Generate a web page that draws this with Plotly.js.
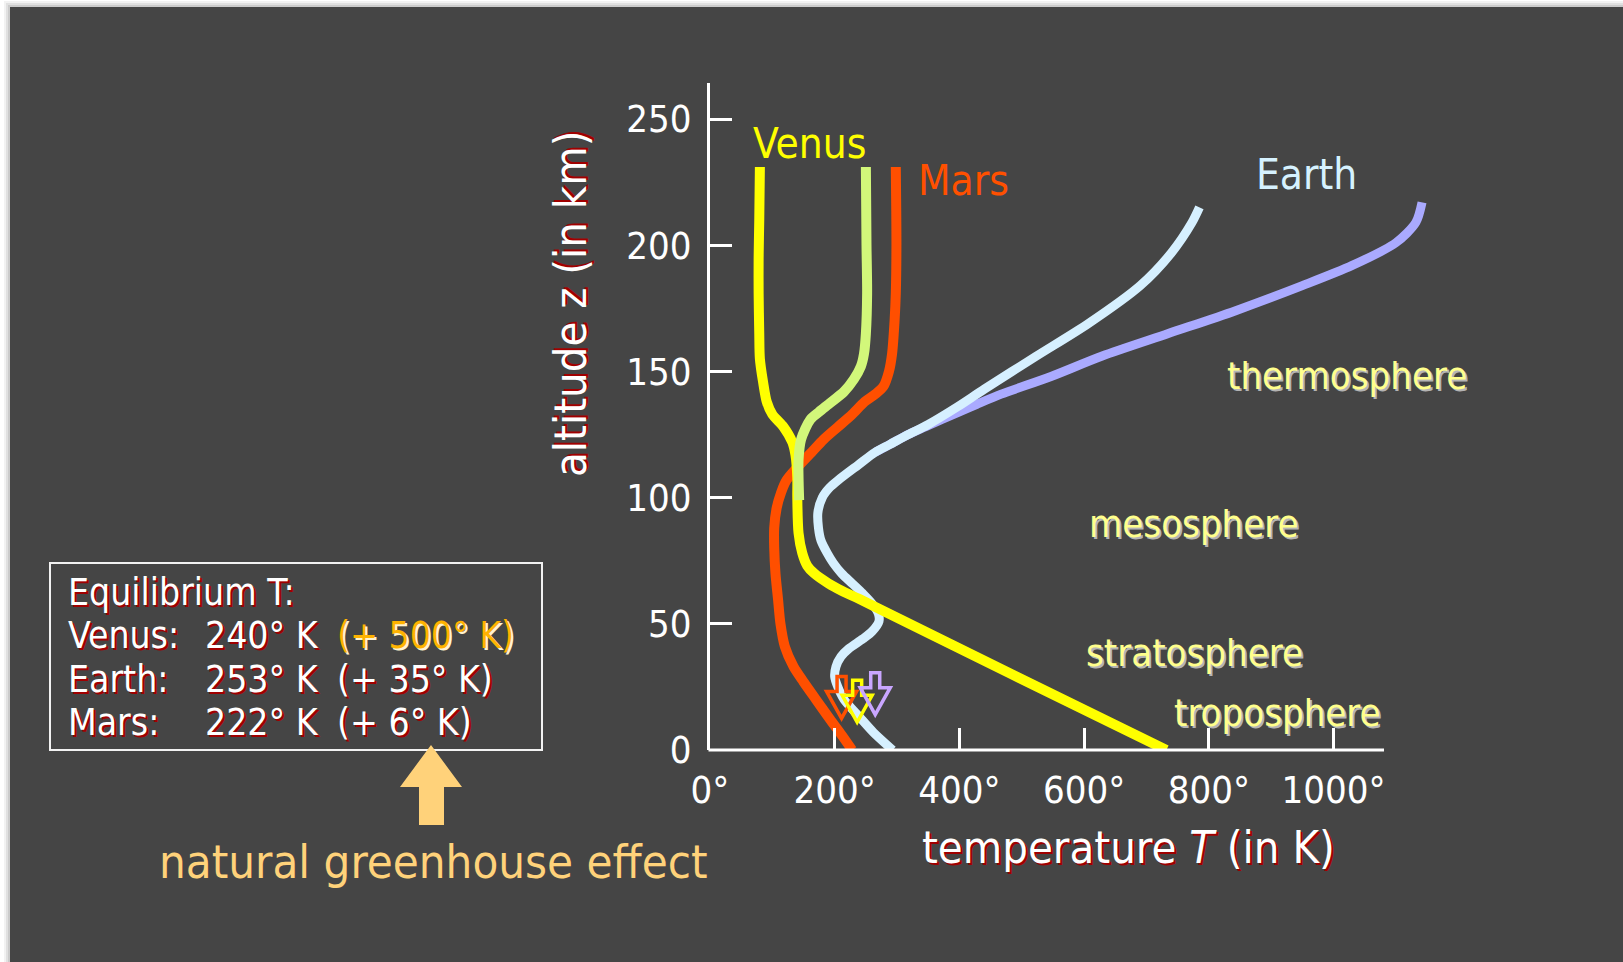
<!DOCTYPE html>
<html>
<head>
<meta charset="utf-8">
<script src="https://cdn.plot.ly/plotly-3.0.1.min.js"></script>
<style>html,body{margin:0;padding:0;background:#ffffff;overflow:hidden}</style>
</head>
<body>
<div id="chart" style="width:1623px;height:962px"></div>
<script>
// ---------------- DATA ----------------
// Venus, night-side profile (yellow): altitude z (km) and temperature T (K)
const venusNightZ = [0, 30, 56, 60, 63, 66, 70, 73, 78, 86, 100, 108, 117, 122, 128, 133, 138, 146, 155, 165, 181, 195, 210, 231];
const venusNightT = [732, 484, 271, 238, 212, 190, 167, 156, 148, 142, 140, 140, 137, 132, 118, 100, 91, 85, 80, 79, 78, 78, 79, 80];
// Venus, day-side upper profile (light green)
const venusDayZ = [99, 108, 115, 123, 131, 134, 137, 142, 147, 152, 157, 165, 181, 200, 231];
const venusDayT = [143, 142, 142, 146, 161, 175, 190, 215, 231, 242, 247, 250, 252, 251, 250];
// Mars (orange-red)
const marsZ = [0, 6, 12, 20, 27, 33, 41, 50, 60, 70, 80, 88, 96, 102, 107, 112, 118, 123, 128, 133, 138, 141, 144, 150, 157, 170, 181, 200, 231];
const marsT = [228, 211, 193, 170, 150, 134, 120, 113, 109, 105, 103, 103, 107, 114, 123, 140, 163, 182, 205, 228, 248, 265, 278, 287, 292, 296, 298, 299, 298];
// Earth (light blue)
const earthZ = [0, 7, 13, 20, 25, 29, 33, 37, 40, 44, 47, 51, 54, 58, 62, 66, 70, 74, 78, 83, 88, 94, 100, 104, 107, 113, 118, 121, 125, 129, 136, 143, 156, 169, 184, 197, 209, 215];
const earthT = [293, 262, 240, 215, 205, 200, 202, 210, 222, 245, 260, 271, 270, 260, 245, 228, 211, 198, 188, 178, 174, 173, 180, 192, 206, 238, 265, 288, 318, 350, 397, 440, 523, 607, 690, 740, 773, 785];
// Earth, hot thermosphere branch (lavender)
const earthHotZ = [118, 121, 125, 128, 131, 134, 137, 141, 148, 156, 165, 174, 184, 192, 201, 209, 217];
const earthHotT = [265, 288, 318, 345, 372, 400, 428, 467, 547, 628, 735, 842, 950, 1030, 1100, 1132, 1142];
// Equilibrium temperatures and greenhouse warming (text box)
const eqPlanets = ['Venus', 'Earth', 'Mars'];
const eqTemps = [240, 253, 222];
const eqExtra = [500, 35, 6];
// Small down-arrows (equilibrium markers): planet, T position, tip altitude
const arrowPlanets = ['Mars', 'Venus', 'Earth'];
const arrowT = [211, 236, 265];
const arrowTipZ = [12.5, 11, 14];
// Axis ticks
const xTickVals = [0, 200, 400, 600, 800, 1000];
const xTickText = ['0°', '200°', '400°', '600°', '800°', '1000°'];
const yTickVals = [0, 50, 100, 150, 200, 250];
const yTickText = ['0', '50', '100', '150', '200', '250'];
// Labels
const planetLabels = ['Venus', 'Mars', 'Earth'];
const layerLabels = ['thermosphere', 'mesosphere', 'stratosphere', 'troposphere'];

// ---------------- STYLE ----------------
const W = 1623, H = 962;
const FONT = '"DejaVu Sans Condensed", "DejaVu Sans", sans-serif';
const px = v => v / W;
const py = v => 1 - v / H;
const colVenus = '#ffff00', colVenusDay = '#d2f77a', colMars = '#ff4f00', colEarth = '#d6f0ff', colEarthHot = '#aaaaff';
const arrowColors = {Mars: '#ff5000', Venus: '#ffff00', Earth: '#c9a6ff'};
const planetLabelColors = {Venus: '#ffff00', Mars: '#ff5000', Earth: '#d6f2ff'};
const planetLabelPos = {Venus: [751, 143], Mars: [916, 181], Earth: [1254, 174]};
const layerLabelPos = {thermosphere: [1225, 376], mesosphere: [1087, 524], stratosphere: [1084, 653], troposphere: [1172, 713]};
// plot geometry (pixels): axes origin at (710, 750), drawn x-axis ends at 1384, y-axis top at 83
const X0 = 710, XAXIS_END = 1384, XDOM_END = 1440, Y0 = 750, YTOP = 83;
const PX_PER_K = 0.6235;

function curve(T, Z, color, width) {
  return {x: T, y: Z, type: 'scatter', mode: 'lines', hoverinfo: 'skip',
          line: {color: color, width: width, shape: 'spline', smoothing: 0.8}};
}
const traces = [
  curve(earthHotT, earthHotZ, colEarthHot, 9),
  curve(earthT, earthZ, colEarth, 9),
  curve(marsT, marsZ, colMars, 10),
  curve(venusNightT, venusNightZ, colVenus, 10),
  curve(venusDayT, venusDayZ, colVenusDay, 10)
];

const shapes = [];
// page shadow and dark panel
[[6, 0.05], [4, 0.07], [2, 0.09]].forEach(([d, o]) => {
  shapes.push({type: 'rect', xref: 'paper', yref: 'paper', layer: 'below',
    x0: px(10 - d), x1: 1, y0: 0, y1: py(7 - d), line: {width: 0}, fillcolor: 'rgba(0,0,0,' + o + ')'});
});
shapes.push({type: 'rect', xref: 'paper', yref: 'paper', layer: 'below',
  x0: px(10), x1: 1, y0: 0, y1: py(7), line: {width: 0}, fillcolor: '#454545'});
// drawn x-axis line (shorter than the plotting area so the hot Earth curve can run past it)
shapes.push({type: 'line', xref: 'paper', yref: 'paper', layer: 'above',
  x0: px(X0 - 1.5), x1: px(XAXIS_END), y0: py(Y0), y1: py(Y0), line: {color: '#ffffff', width: 3}});
// hollow equilibrium arrows (pixel-sized, anchored at data position)
arrowPlanets.forEach((p, i) => {
  shapes.push({type: 'path', xref: 'x', yref: 'y', xsizemode: 'pixel', ysizemode: 'pixel',
    xanchor: arrowT[i], yanchor: arrowTipZ[i],
    path: 'M0,0 L-15,27 L-4.5,27 L-4.5,42 L4.5,42 L4.5,27 L15,27 Z',
    line: {color: arrowColors[p], width: 3.5}, fillcolor: 'rgba(0,0,0,0)'});
});
// text box
shapes.push({type: 'rect', xref: 'paper', yref: 'paper', x0: px(50), x1: px(542), y0: py(750), y1: py(563),
  line: {color: '#f2f2f2', width: 2}, fillcolor: 'rgba(0,0,0,0)'});
// big greenhouse arrow
const ap = [[431, 745], [462, 787], [444, 787], [444, 825], [419, 825], [419, 787], [400, 787]];
shapes.push({type: 'path', xref: 'paper', yref: 'paper',
  path: 'M' + ap.map(p => px(p[0]) + ',' + py(p[1])).join(' L') + ' Z',
  line: {width: 0}, fillcolor: '#ffd27a'});

const ann = [];
function txt(text, x, y, size, color, opts) {
  ann.push(Object.assign({xref: 'paper', yref: 'paper', x: px(x), y: py(y), text: text, showarrow: false,
    xanchor: 'left', yanchor: 'middle', font: {family: FONT, size: size, color: color}}, opts || {}));
}
planetLabels.forEach(p => txt(p, planetLabelPos[p][0], planetLabelPos[p][1], 42, planetLabelColors[p]));
layerLabels.forEach(l => txt(l, layerLabelPos[l][0], layerLabelPos[l][1], 38, '#ffff8c'));
ann.slice(-4).forEach(a => a.font.shadow = '2px 2px 0px #b4b4b4');

const redShadow = '2px 2px 0px #a00000';
const BOX_FS = 37;
txt('Equilibrium T:', 66, 592, BOX_FS, '#ffffff');
const boxY = [635.5, 679, 722.5];
eqPlanets.forEach((p, i) => {
  txt(p + ':', 66, boxY[i], BOX_FS, '#ffffff');
  txt(eqTemps[i] + '° K', 203, boxY[i], BOX_FS, '#ffffff');
  const extra = '(+ ' + eqExtra[i] + '° K)';
  if (i === 0) txt(extra, 335, boxY[i], BOX_FS, '#ffb300', {font: {family: FONT, size: BOX_FS, color: '#ffb300', shadow: '2px 2px 0px #fff4d0'}});
  else txt(extra, 335, boxY[i], BOX_FS, '#ffffff');
});
ann.forEach(a => { if (a.font.color === '#ffffff' && !a.font.shadow) a.font.shadow = redShadow; });

txt('natural greenhouse effect', 433, 861, 47, '#ffd27a', {xanchor: 'center'});
txt('temperature <i>T</i> (in K)', 1128, 847, 45, '#ffffff', {xanchor: 'center'});
ann[ann.length - 1].font.shadow = redShadow;
txt('altitude z (in km)', 570, 304, 45, '#ffffff', {xanchor: 'center', textangle: -90});
ann[ann.length - 1].font.shadow = redShadow;

const axisCommon = {showgrid: false, zeroline: false, linecolor: '#ffffff', linewidth: 3,
  ticks: 'inside', ticklen: 22, tickwidth: 3, tickcolor: '#ffffff', fixedrange: true,
  tickfont: {family: FONT, size: 38, color: '#ffffff'}, tickmode: 'array'};

const layout = {
  width: W, height: H, margin: {l: 0, r: 0, t: 0, b: 0},
  paper_bgcolor: '#ffffff', plot_bgcolor: 'rgba(0,0,0,0)', showlegend: false,
  xaxis: Object.assign({}, axisCommon, {showline: false, domain: [px(X0), px(XDOM_END)],
    range: [0, (XDOM_END - X0) / PX_PER_K],
    tickvals: xTickVals, ticktext: xTickText, ticklabelstandoff: 14}),
  yaxis: Object.assign({}, axisCommon, {showline: true, domain: [py(Y0), py(YTOP)], range: [0, 264.3],
    tickvals: yTickVals, ticktext: yTickText, ticklabelstandoff: 8}),
  shapes: shapes, annotations: ann
};
Plotly.newPlot('chart', traces, layout, {staticPlot: true, displayModeBar: false});
</script>
</body>
</html>
